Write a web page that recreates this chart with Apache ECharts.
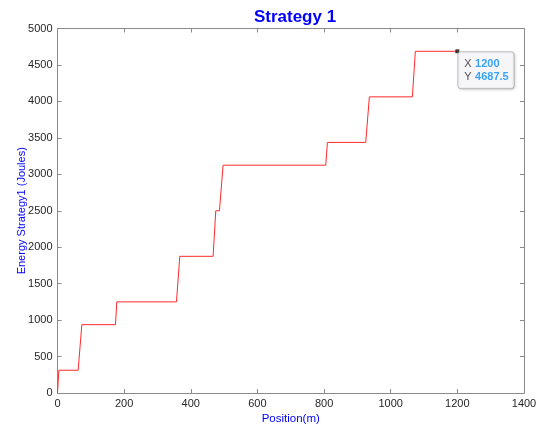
<!DOCTYPE html>
<html>
<head>
<meta charset="utf-8">
<script src="https://cdn.jsdelivr.net/npm/echarts@6/dist/echarts.min.js"></script>
<style>
  html, body { margin: 0; padding: 0; background: #fff; }
  #chart { width: 540px; height: 427px; }
</style>
</head>
<body>
<div id="chart"></div>
<script>
// step curve
const positions = [0, 4, 62, 73, 174, 178, 357, 367, 467, 475, 486, 497, 805, 810, 925, 936, 1065, 1074, 1200];
const energy = [0, 312.5, 312.5, 937.5, 937.5, 1250, 1250, 1875, 1875, 2500, 2500, 3125, 3125, 3437.5, 3437.5, 4062.5, 4062.5, 4687.5, 4687.5];
const tipPoint = [1200, 4687.5];

const font = 'Liberation Sans, Arial, Helvetica, sans-serif';
const axisColor = '#8a8a8a';
const textColor = '#262626';

const chart = echarts.init(document.getElementById('chart'));

const baseAxis = {
  type: 'value',
  axisLine: {show: true, onZero: false, lineStyle: {color: axisColor, width: 1}},
  axisTick: {show: true, inside: true, length: 4, lineStyle: {color: axisColor}},
  splitLine: {show: false},
  nameMoveOverlap: false
};
const plain = v => String(v);

chart.setOption({
  animation: false,
  textStyle: {fontFamily: font},
  title: {
    text: 'Strategy 1',
    left: 290, top: 4, textAlign: 'center',
    textStyle: {color: '#0000ff', fontSize: 17, fontWeight: 'bold', fontFamily: font}
  },
  grid: {left: 57.5, right: 16, top: 28.5, bottom: 34, outerBoundsMode: 'none', containLabel: false},
  xAxis: [
    Object.assign({}, baseAxis, {
      min: 0, max: 1400, interval: 200, position: 'bottom',
      axisLabel: {color: textColor, fontSize: 11, margin: 5, formatter: plain},
      name: 'Position(m)', nameLocation: 'middle', nameGap: 20,
      nameTextStyle: {color: '#0000ff', fontSize: 11.5}
    }),
    Object.assign({}, baseAxis, {
      min: 0, max: 1400, interval: 200, position: 'top',
      axisLabel: {show: false}
    })
  ],
  yAxis: [
    Object.assign({}, baseAxis, {
      min: 0, max: 5000, interval: 500, position: 'left',
      axisLabel: {color: textColor, fontSize: 11, margin: 5, formatter: plain},
      name: 'Energy Strategy1 (Joules)', nameLocation: 'middle', nameGap: 30,
      nameTextStyle: {color: '#0000ff', fontSize: 11}
    }),
    Object.assign({}, baseAxis, {
      min: 0, max: 5000, interval: 500, position: 'right',
      axisLabel: {show: false}
    })
  ],
  series: [
    {
      type: 'line',
      data: positions.map((x, i) => [x, energy[i]]),
      showSymbol: false,
      lineStyle: {color: '#ff2a2a', width: 1},
      silent: true
    },
    {
      type: 'scatter',
      data: [tipPoint],
      symbol: 'rect',
      symbolSize: 4,
      itemStyle: {color: '#111'},
      z: 5,
      label: {
        show: true,
        position: [3, 3],
        formatter: p => `{k|X} {v|${p.value[0]}}\n{k|Y} {v|${p.value[1]}}`,
        backgroundColor: '#fbfbff',
        borderColor: '#b5b5b5',
        borderWidth: 1,
        borderRadius: 3,
        padding: [5, 5, 5, 6],
        shadowColor: 'rgba(0,0,0,0.15)',
        shadowBlur: 3,
        shadowOffsetX: 1,
        shadowOffsetY: 1,
        rich: {
          k: {color: textColor, fontSize: 11, lineHeight: 13, fontFamily: font},
          v: {color: '#0a8ff5', fontSize: 11, fontWeight: 'bold', lineHeight: 13, fontFamily: font}
        }
      }
    }
  ]
});
</script>
</body>
</html>
